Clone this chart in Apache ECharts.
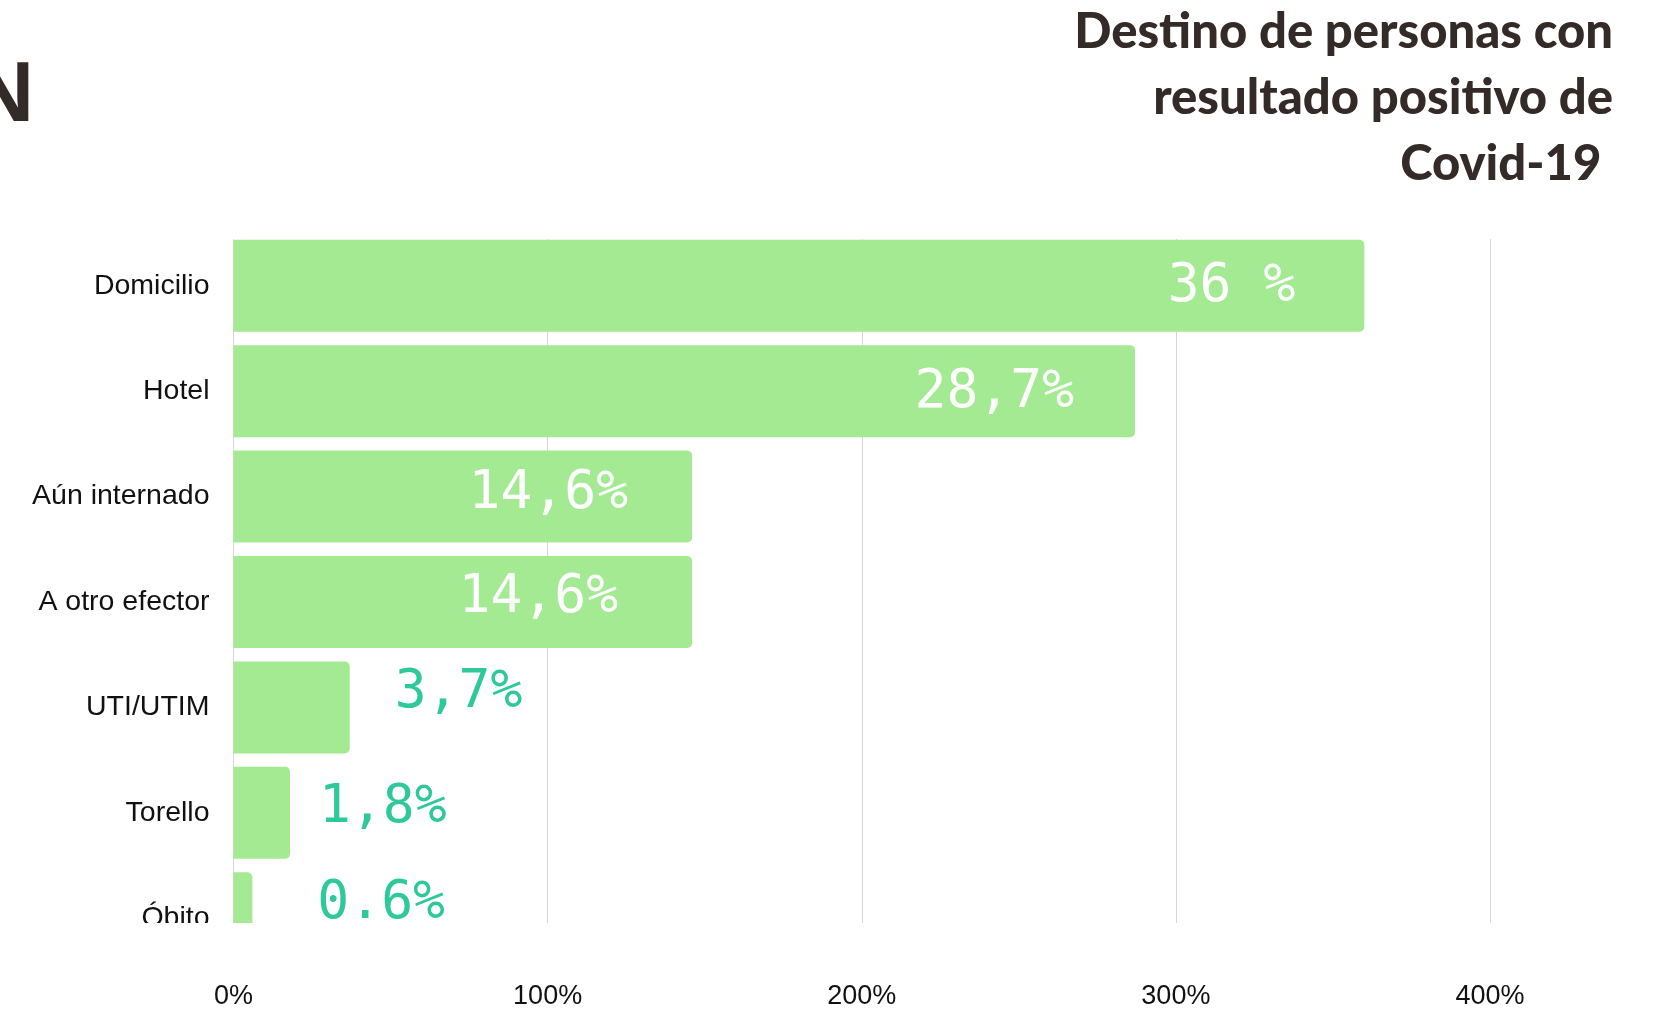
<!DOCTYPE html>
<html>
<head>
<meta charset="utf-8">
<title>Destino de personas con resultado positivo de Covid-19</title>
<script src="https://cdn.jsdelivr.net/npm/echarts@6/dist/echarts.min.js"></script>
<style>
  html, body { margin: 0; padding: 0; background: #fff; }
  #chart { width: 1664px; height: 1010px; }
</style>
</head>
<body>
<div id="chart"></div>
<script>
// datos
var categories = ['Domicilio', 'Hotel', 'Aún internado', 'A otro efector', 'UTI/UTIM', 'Torello', 'Óbito']
var values = [360, 287, 146, 146, 37, 18, 6]
var labelTexts = ['36 %', '28,7%', '14,6%', '14,6%', '3,7%', '1,8%', '0.6%']
var xTicks = [0, 100, 200, 300, 400]

var titleText = 'Destino de personas con\nresultado positivo de\nCovid-19 '

// donde va cada etiqueta (dentro o fuera de la barra)
var labelPlace = [
  { pos: 'insideRight', off: [-69, 2] },
  { pos: 'insideRight', off: [-61, 2] },
  { pos: 'insideRight', off: [-64, -2] },
  { pos: 'insideRight', off: [-74, -4] },
  { pos: 'right', off: [45, -14] },
  { pos: 'right', off: [29, -5] },
  { pos: 'right', off: [65, -14] }
]

var chart = echarts.init(document.getElementById('chart'))

function buildData () {
  return values.map(function (v, i) {
    var inside = labelPlace[i].pos === 'insideRight'
    return {
      value: v,
      label: {
        show: true,
        position: labelPlace[i].pos,
        distance: 0,
        offset: labelPlace[i].off,
        formatter: labelTexts[i],
        color: inside ? '#ffffff' : '#2ec99a',
        fontFamily: 'DejaVu Sans Mono',
        fontSize: 53
      }
    }
  })
}

var option = {
  backgroundColor: '#ffffff',
  animation: false,
  grid: {
    left: 233.5,
    right: 174,
    top: 233,
    bottom: 39
  },
  xAxis: {
    type: 'value',
    min: xTicks[0],
    max: xTicks[xTicks.length - 1],
    interval: 100,
    axisLine: { show: false },
    axisTick: { show: false },
    axisLabel: {
      formatter: '{value}%',
      color: '#111',
      fontFamily: 'Liberation Sans',
      fontSize: 27,
      margin: 12
    },
    splitLine: {
      show: true,
      lineStyle: { color: '#d6d6d6', width: 1 }
    }
  },
  yAxis: {
    type: 'category',
    inverse: true,
    data: categories,
    axisLine: { show: false },
    axisTick: { show: false },
    axisLabel: {
      color: '#111',
      fontFamily: 'Liberation Sans',
      fontSize: 28.5,
      margin: 24
    }
  },
  series: [{
    type: 'bar',
    barWidth: 92,
    z: 5,
    data: buildData(),
    itemStyle: {
      color: '#a3ea93',
      borderRadius: [0, 5, 5, 0]
    }
  }],
  graphic: [
    // tapa el inicio de las lineas de grilla (quedan bajo las barras)
    {
      type: 'rect',
      z: 1,
      shape: { x: 200, y: 230, width: 1400, height: 9 },
      style: { fill: '#ffffff' }
    },
    // recorte de la parte baja, como en la imagen original
    {
      type: 'rect',
      z: 100,
      shape: { x: 0, y: 923, width: 1664, height: 49 },
      style: { fill: '#ffffff' }
    },
    {
      type: 'text',
      z: 100,
      x: 34,
      y: 97,
      style: {
        text: 'N',
        textAlign: 'right',
        textVerticalAlign: 'middle',
        fill: '#342b28',
        font: 'bold 86px "Liberation Sans"'
      }
    },
    {
      type: 'text',
      z: 100,
      x: 1613,
      y: -1,
      style: {
        text: titleText,
        textAlign: 'right',
        textVerticalAlign: 'top',
        lineHeight: 66,
        fill: '#342b28',
        font: '900 49px Lato'
      }
    }
  ]
}

chart.setOption(option)
window.addEventListener('resize', function () { chart.resize() })
</script>
</body>
</html>
